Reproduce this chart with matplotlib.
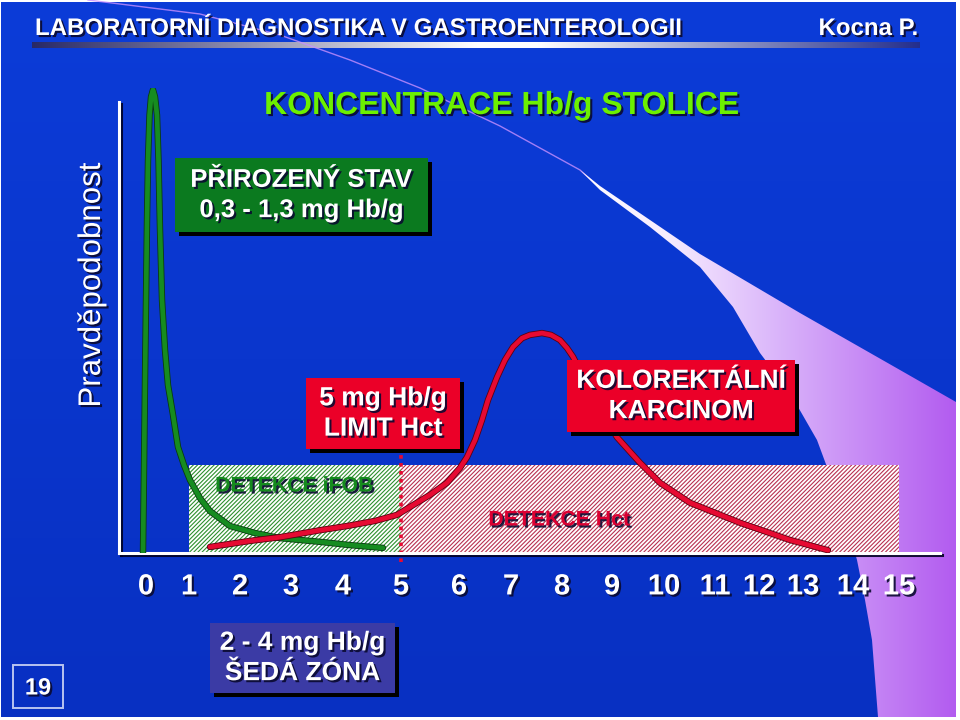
import matplotlib
matplotlib.use('Agg')
import matplotlib.pyplot as plt
import matplotlib.patheffects as pe
from matplotlib.patches import Rectangle, Polygon
import numpy as np

plt.rcParams['font.family'] = ['Liberation Sans', 'DejaVu Sans']
plt.rcParams['hatch.linewidth'] = 0.8

# ── Data (x in concentration-axis units, y = relative probability) ──────────
TICK_LABELS = [str(i) for i in range(16)]
TICK_POS = [0.0, 0.857, 1.873, 2.888, 3.924, 5.080, 6.235, 7.271,
            8.287, 9.283, 10.319, 11.335, 12.211, 13.088, 14.084, 15.0]

# physiological state (green)
NORMAL_X = [-0.060, -0.040, -0.020, 0.000, 0.020, 0.040, 0.070, 0.100, 0.139,
            0.179, 0.219, 0.249, 0.279, 0.319, 0.378, 0.438, 0.538, 0.637,
            0.757, 0.876, 1.076, 1.275, 1.673, 2.171, 2.669, 3.466, 4.064, 4.721]
NORMAL_Y = [0.000, 0.178, 0.372, 0.544, 0.716, 0.845, 0.942, 0.981, 0.996,
            0.981, 0.942, 0.845, 0.695, 0.544, 0.437, 0.361, 0.297, 0.228,
            0.189, 0.157, 0.118, 0.090, 0.058, 0.043, 0.032, 0.024, 0.017, 0.011]

# colorectal carcinoma (red)
CRC_X = [1.275, 2.072, 2.669, 3.466, 4.004, 4.562, 5.000, 5.319, 5.657, 5.996,
         6.255, 6.394, 6.554, 6.693, 6.813, 6.992, 7.151, 7.311, 7.490, 7.649,
         7.888, 8.068, 8.247, 8.386, 8.506, 8.745, 9.044, 9.382, 9.841, 10.239,
         10.837, 11.833, 12.829, 13.586]
CRC_Y = [0.013, 0.026, 0.034, 0.049, 0.058, 0.069, 0.082, 0.103, 0.125, 0.151,
         0.183, 0.206, 0.243, 0.286, 0.329, 0.378, 0.415, 0.443, 0.462, 0.469,
         0.473, 0.469, 0.458, 0.441, 0.422, 0.372, 0.308, 0.249, 0.194, 0.151,
         0.108, 0.065, 0.028, 0.006]

ZONE_TOP = 0.19          # height of the detection zones
LIMIT_X = TICK_POS[5]    # 5 mg Hb/g limit

GREEN_LINE = '#168c20'
RED_LINE = '#e60a32'
RED_BOX = '#eb0028'
GREEN_BOX = '#0b7a1f'
GREY_BOX = '#3b3ba5'

shadow = [pe.withSimplePatchShadow(offset=(1.5, -1.5), shadow_rgbFace='#0a0a30', alpha=0.9)]
box_shadow = [pe.withSimplePatchShadow(offset=(3, -3), shadow_rgbFace='black', alpha=1.0)]

fig = plt.figure(figsize=(9.6, 7.2), dpi=100, facecolor='white')

# ── Slide background (pixel coords) ─────────────────────────────────────────
bg = fig.add_axes([0, 0, 1, 1])
bg.set_xlim(0, 960)
bg.set_ylim(720, 0)
bg.axis('off')

t = np.linspace(0, 1, 256)[:, None]
top_c, bot_c = np.array([12, 60, 216]) / 255, np.array([8, 48, 194]) / 255
bg.imshow(top_c * (1 - t[..., None]) + bot_c * t[..., None],
          extent=(1, 956, 717, 2), aspect='auto', zorder=0)

# header gradient bar
u = np.linspace(0, 1, 512)
bar = np.stack([np.interp(u, [0, 0.5, 0.57, 1], [c0, 1, 1, c1])
                for c0, c1 in zip([0.16, 0.16, 0.40], [0.14, 0.18, 0.55])], axis=-1)
bg.imshow(bar[None, :, :], extent=(32, 920, 48, 42), aspect='auto', zorder=1)

# swoosh: thin line widening into a white→violet wedge
SW_X = [88, 200, 280, 350, 420, 500, 580, 600]
SW_Y = [0, 14, 35, 60, 88, 126, 170, 188]
bg.plot(SW_X, SW_Y, color='#c890ff', lw=1.0, alpha=0.8, zorder=2)
upper = [(580, 170), (600, 186), (700, 254), (800, 313), (900, 370), (956, 402)]
lower = [(956, 717), (878, 717), (872, 640), (865, 600), (857, 560), (840, 500),
         (827, 467), (817, 440), (790, 393), (760, 353), (733, 307), (700, 267),
         (650, 227), (600, 190)]
wedge = Polygon(upper + lower, closed=True, facecolor='none', edgecolor='none')
bg.add_patch(wedge)
v = np.linspace(0, 1, 400)
wcol = np.stack([np.interp(v, [0, 0.25, 0.55, 1], a) for a in
                 ([1.0, 0.97, 0.85, 0.70], [1.0, 0.93, 0.70, 0.36], [1.0, 1.0, 0.98, 0.94])],
                axis=-1)
im = bg.imshow(wcol[None, :, :], extent=(570, 956, 717, 160), aspect='auto', zorder=2)
im.set_clip_path(wedge)

bg.text(35, 35, 'LABORATORNÍ DIAGNOSTIKA V GASTROENTEROLOGII', color='white',
        fontsize=17.3, fontweight='bold', ha='left', va='baseline', path_effects=shadow, zorder=3)
bg.text(918, 35, 'Kocna P.', color='white', fontsize=17.3, fontweight='bold',
        ha='right', va='baseline', path_effects=shadow, zorder=3)
bg.text(502, 114, 'KONCENTRACE Hb/g STOLICE', color='#6cf000', fontsize=23,
        fontweight='bold', ha='center', va='baseline', path_effects=shadow, zorder=3)
bg.text(92, 285, 'Pravděpodobnost', color='white', fontsize=22.5, rotation=90,
        ha='center', va='center', path_effects=shadow, zorder=3)

# ── Chart ────────────────────────────────────────────────────────────────────
ax = fig.add_axes([119 / 960, 167 / 720, 821 / 960, 465 / 720])
ax.set_facecolor('none')
ax.set_xlim(-0.538, 15.817)
ax.set_ylim(0, 1)

ax.fill_between([TICK_POS[1], LIMIT_X], 0, ZONE_TOP, facecolor='white',
                edgecolor='#2e8f2e', hatch='////////', linewidth=0, zorder=1)
ax.fill_between([LIMIT_X, TICK_POS[15]], 0, ZONE_TOP, facecolor='white',
                edgecolor='#b83050', hatch='////////', linewidth=0, zorder=1)
ax.vlines(LIMIT_X, -0.02, 0.21, colors=RED_LINE, linestyles=(0, (1, 1.2)),
          linewidth=2.6, clip_on=False, zorder=2)

ax.plot(NORMAL_X, NORMAL_Y, color=GREEN_LINE, lw=3.4, solid_capstyle='round',
        solid_joinstyle='round', zorder=3,
        path_effects=[pe.Stroke(linewidth=4.6, foreground='#0a3a12'), pe.Normal()])
ax.plot(CRC_X, CRC_Y, color=RED_LINE, lw=3.4, solid_capstyle='round',
        solid_joinstyle='round', zorder=4,
        path_effects=[pe.Stroke(linewidth=4.6, foreground='#5a0010'), pe.Normal()])

for side in ('top', 'right'):
    ax.spines[side].set_visible(False)
ax.spines['left'].set_bounds(0, 0.97)
for side in ('left', 'bottom'):
    ax.spines[side].set_color('white')
    ax.spines[side].set_linewidth(2.2)
    ax.spines[side].set_path_effects(
        [pe.SimpleLineShadow(offset=(1.2, -1.2), shadow_color='#000020', alpha=0.9), pe.Normal()])
ax.set_yticks([])
ax.set_xticks(TICK_POS, TICK_LABELS)
ax.tick_params(axis='x', length=0, pad=14, labelsize=21, labelcolor='white')
for lbl in ax.get_xticklabels():
    lbl.set_fontweight('bold')
    lbl.set_path_effects(shadow)

# ── Labels and boxes (pixel coords) ─────────────────────────────────────────
ov = fig.add_axes([0, 0, 1, 1])
ov.set_facecolor('none')
ov.set_xlim(0, 960)
ov.set_ylim(720, 0)
ov.axis('off')


def label_box(x0, y0, x1, y1, color, text, size=19):
    ov.add_patch(Rectangle((x0, y0), x1 - x0, y1 - y0, facecolor=color,
                           edgecolor='none', path_effects=box_shadow))
    ov.text((x0 + x1) / 2, (y0 + y1) / 2, text, color='white', fontsize=size,
            fontweight='bold', ha='center', va='center', linespacing=1.33,
            path_effects=shadow)


label_box(175, 158, 428, 232, GREEN_BOX, 'PŘIROZENÝ STAV\n0,3 - 1,3 mg Hb/g', 18.5)
label_box(306, 378, 460, 449, RED_BOX, '5 mg Hb/g\nLIMIT Hct', 19)
label_box(567, 360, 795, 432, RED_BOX, 'KOLOREKTÁLNÍ\nKARCINOM', 19)
label_box(210, 623, 395, 693, GREY_BOX, '2 - 4 mg Hb/g\nŠEDÁ ZÓNA', 19)

ov.text(294, 486, 'DETEKCE iFOB', color='#158a1e', fontsize=15.3, fontweight='bold',
        ha='center', va='center', path_effects=shadow)
ov.text(559, 520, 'DETEKCE Hct', color='#dc0032', fontsize=15.3, fontweight='bold',
        ha='center', va='center', path_effects=shadow)

ov.add_patch(Rectangle((13, 665), 50, 43, facecolor='none', edgecolor='#b8c4f0', lw=1.4))
ov.text(38, 688, '19', color='white', fontsize=17, fontweight='bold',
        ha='center', va='center', path_effects=shadow)

fig.savefig('out.png', dpi=100, facecolor='white')
